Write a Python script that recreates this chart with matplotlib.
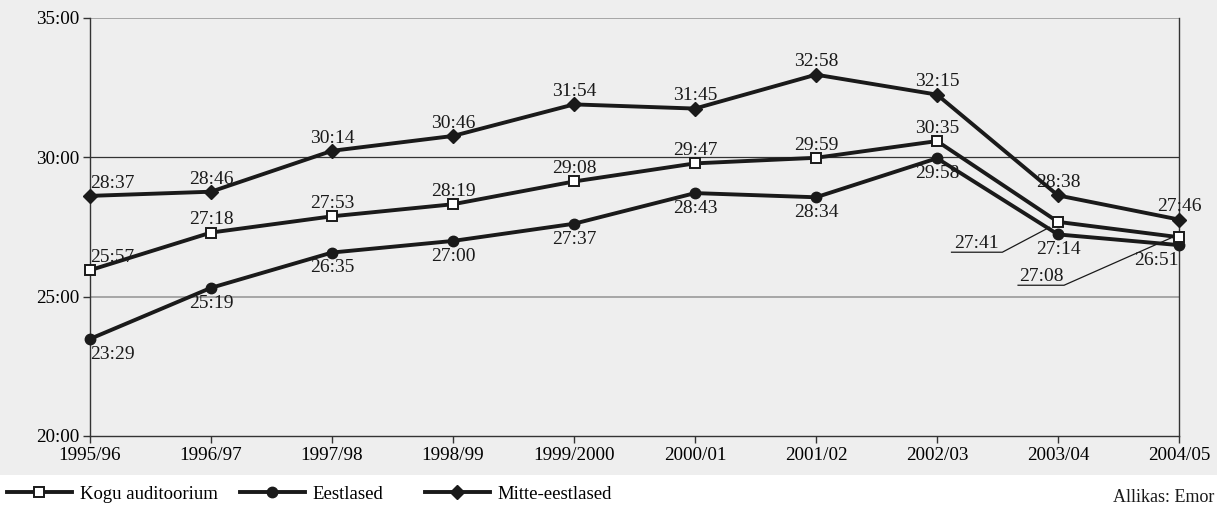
import matplotlib
matplotlib.use("Agg")
import matplotlib.pyplot as plt
from matplotlib.lines import Line2D
from matplotlib.patches import Rectangle

plt.rcParams['font.family'] = ['Liberation Serif', 'DejaVu Serif']

# data (minutes:seconds)
seasons = ['1995/96', '1996/97', '1997/98', '1998/99', '1999/2000',
           '2000/01', '2001/02', '2002/03', '2003/04', '2004/05']
kogu = ['25:57', '27:18', '27:53', '28:19', '29:08', '29:47', '29:59', '30:35', '27:41', '27:08']
eesti = ['23:29', '25:19', '26:35', '27:00', '27:37', '28:43', '28:34', '29:58', '27:14', '26:51']
mitte = ['28:37', '28:46', '30:14', '30:46', '31:54', '31:45', '32:58', '32:15', '28:38', '27:46']
series_names = ['Kogu auditoorium', 'Eestlased', 'Mitte-eestlased']


def to_min(s):
    m, sec = s.split(':')
    return int(m) + int(sec) / 60


kogu_v = [to_min(s) for s in kogu]
eesti_v = [to_min(s) for s in eesti]
mitte_v = [to_min(s) for s in mitte]
x = list(range(len(seasons)))

bg = '#eeeeee'
ink = '#1a1a1a'
fs_tick = 13.8
fs = 14

fig = plt.figure(figsize=(12.17, 5.08), dpi=100)
fig.patches.append(Rectangle((0, 0.065), 1, 0.935, transform=fig.transFigure,
                             facecolor=bg, edgecolor='none', zorder=-10))
ax = fig.add_axes([90 / 1217, 1 - 436 / 508, 1089 / 1217, 418 / 508])
ax.set_facecolor(bg)

# gridlines
ax.axhline(25, color='#999999', lw=1.2, zorder=1)
ax.axhline(35, color='#999999', lw=1.2, zorder=1)
ax.axhline(30, color='#333333', lw=0.9, zorder=1)

lw = 2.8
line_kw = dict(color=ink, lw=lw, clip_on=False, zorder=3)
ax.plot(x, eesti_v, marker='o', ms=7.5, mfc=ink, mec=ink, **line_kw)
ax.plot(x, mitte_v, marker='D', ms=7.5, mfc=ink, mec=ink, **line_kw)
ax.plot(x, kogu_v, marker='s', ms=7, mfc='white', mec=ink, mew=1.4, **line_kw)

ax.set_xlim(0, 9)
ax.set_ylim(20, 35)
ax.set_xticks(x)
ax.set_xticklabels(seasons, fontsize=fs_tick)
ax.set_yticks([20, 25, 30, 35])
ax.set_yticklabels(['20:00', '25:00', '30:00', '35:00'], fontsize=fs_tick)
ax.tick_params(direction='out', length=5, width=1, color='#333333', pad=3)
for side in ['left', 'bottom', 'right']:
    ax.spines[side].set_color('#333333')
    ax.spines[side].set_linewidth(1)
ax.spines['top'].set_visible(False)

txt = dict(fontsize=fs, color=ink, zorder=4)

# labels above for Mitte-eestlased and Kogu
for i in x:
    ha = 'left' if i == 0 else 'center'
    ax.annotate(mitte[i], (i, mitte_v[i]), xytext=(0, 3), textcoords='offset points',
                ha=ha, va='bottom', **txt)
for i in range(8):
    ha = 'left' if i == 0 else 'center'
    ax.annotate(kogu[i], (i, kogu_v[i]), xytext=(0, 3), textcoords='offset points',
                ha=ha, va='bottom', **txt)
# labels below for Eestlased
for i in x:
    ha = 'center'
    if i == 0:
        ha = 'left'
    elif i == 9:
        ha = 'right'
    ax.annotate(eesti[i], (i, eesti_v[i]), xytext=(0, -5), textcoords='offset points',
                ha=ha, va='top', **txt)

# Kogu labels with leader lines for the last two seasons
lead = dict(color=ink, lw=0.9, clip_on=False, zorder=4)
ax.plot([7.12, 7.54, 7.93], [26.595, 26.595, 27.49], **lead)
ax.text(7.33, 26.62, kogu[8], ha='center', va='bottom', **txt)
ax.plot([7.67, 8.05, 8.93], [25.41, 25.41, 27.10], **lead)
ax.text(7.86, 25.435, kogu[9], ha='center', va='bottom', **txt)

# legend, one entry at a time so each sits where the original puts it
handles = [
    Line2D([], [], color=ink, lw=lw, marker='s', ms=7, mfc='white', mec=ink, mew=1.4),
    Line2D([], [], color=ink, lw=lw, marker='o', ms=7.5, mfc=ink, mec=ink),
    Line2D([], [], color=ink, lw=lw, marker='D', ms=7.5, mfc=ink, mec=ink),
]
for h, name, xpos in zip(handles, series_names, [7, 240, 425]):
    fig.legend([h], [name], loc='center left', bbox_to_anchor=(xpos / 1217, 14 / 508),
               frameon=False, fontsize=13.5, handlelength=3.45, handletextpad=0.42,
               borderaxespad=0, borderpad=0)
fig.text(1214 / 1217, 11 / 508, 'Allikas: Emor', ha='right', va='center', fontsize=13, color=ink)

fig.savefig('out.png', dpi=100)
